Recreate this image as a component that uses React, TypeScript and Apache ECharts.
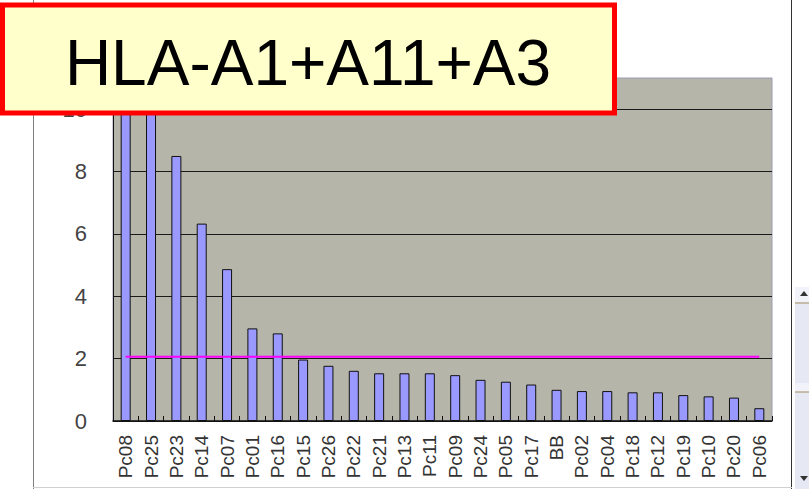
import React, { useEffect, useRef } from "react";
import * as echarts from "echarts";

const categories = ["Pc08","Pc25","Pc23","Pc14","Pc07","Pc01","Pc16","Pc15","Pc26","Pc22","Pc21","Pc13","Pc11","Pc09","Pc24","Pc05","Pc17","BB","Pc02","Pc04","Pc18","Pc12","Pc19","Pc10","Pc20","Pc06"];
const values = [11.8, 11.5, 8.5, 6.33, 4.87, 2.97, 2.81, 1.97, 1.77, 1.61, 1.53, 1.53, 1.53, 1.47, 1.32, 1.26, 1.17, 1.0, 0.96, 0.96, 0.92, 0.92, 0.83, 0.79, 0.75, 0.41];
const thresholdValue = 2.06;
const thresholdLine = categories.map(() => thresholdValue);
const yMin = 0;
const yMax = 11;
const yInterval = 2;
const titleText = "HLA-A1+A11+A3";

export default function App() {
  const ref = useRef<HTMLDivElement>(null);
  useEffect(() => {
    document.body.style.margin = "0";
    if (!ref.current) return;
    const chart = echarts.init(ref.current, null, { renderer: "svg" });
    const font = "'Liberation Sans', Arial, sans-serif";
    chart.setOption({
      animation: false,
      backgroundColor: "#ffffff",
      grid: {
        left: 113,
        right: 37,
        top: 78,
        bottom: 68,
        show: true,
        backgroundColor: "#b5b5a9",
        borderColor: "#9c9cb4",
        borderWidth: 1,
      },
      xAxis: {
        type: "category",
        data: categories,
        boundaryGap: true,
        axisLine: { show: true, lineStyle: { color: "#111", width: 1.5 } },
        axisTick: { show: true, inside: true, length: 5, lineStyle: { color: "#111" } },
        axisLabel: {
          rotate: 90,
          interval: 0,
          margin: 14,
          fontSize: 19,
          color: "#333",
          fontFamily: font,
        },
        splitLine: { show: false },
      },
      yAxis: {
        type: "value",
        min: yMin,
        max: yMax,
        interval: yInterval,
        axisLine: { show: true, lineStyle: { color: "#111", width: 1 } },
        axisTick: { show: false },
        axisLabel: {
          margin: 26,
          fontSize: 22,
          color: "#444",
          fontFamily: font,
          showMaxLabel: false,
        },
        splitLine: {
          show: true,
          lineStyle: {
            color: ["#1a1a1a", "#1a1a1a", "#1a1a1a", "#1a1a1a", "#1a1a1a", "#1a1a1a", "transparent"],
            width: 1,
          },
        },
      },
      series: [
        {
          type: "bar",
          data: values,
          barWidth: 10,
          clip: true,
          itemStyle: { color: "#9999ff", borderColor: "#111", borderWidth: 1 },
          z: 2,
        },
        {
          type: "line",
          data: thresholdLine,
          symbol: "none",
          lineStyle: { color: "#ff00ff", width: 2 },
          z: 3,
        },
      ],
      graphic: [
        { type: "line", shape: { x1: 33.5, y1: 0, x2: 33.5, y2: 489 }, style: { stroke: "#808080", lineWidth: 1 }, z: 1 },
        { type: "line", shape: { x1: 791.5, y1: 0, x2: 791.5, y2: 489 }, style: { stroke: "#333", lineWidth: 1 }, z: 1 },
        { type: "line", shape: { x1: 33, y1: 487.5, x2: 792, y2: 487.5 }, style: { stroke: "#d0d0d0", lineWidth: 1 }, z: 1 },
        { type: "rect", shape: { x: 795, y: 287, width: 14, height: 202 }, style: { fill: "#e6e8f4" }, z: 1 },
        { type: "rect", shape: { x: 795, y: 287, width: 14, height: 15 }, style: { fill: "#f2f3fa" }, z: 1 },
        { type: "polygon", shape: { points: [[800, 296], [808, 296], [804, 291]] }, style: { fill: "#333" }, z: 2 },
        { type: "line", shape: { x1: 795, y1: 303, x2: 809, y2: 303 }, style: { stroke: "#b8ae90", lineWidth: 1.5 }, z: 2 },
        { type: "rect", shape: { x: 795, y: 383, width: 14, height: 9 }, style: { fill: "#f2f3fa" }, z: 1 },
        { type: "line", shape: { x1: 795, y1: 392, x2: 809, y2: 392 }, style: { stroke: "#b8ae90", lineWidth: 1.5 }, z: 2 },
        { type: "polygon", shape: { points: [[800, 476], [808, 476], [804, 481]] }, style: { fill: "#333" }, z: 2 },
        {
          type: "rect",
          shape: { x: 2.5, y: 5, width: 612, height: 108 },
          style: { fill: "#ffffcc", stroke: "#ff0000", lineWidth: 5 },
          z: 10,
        },
        {
          type: "text",
          x: 308,
          y: 63,
          z: 11,
          style: {
            text: titleText,
            fontSize: 64,
            fontFamily: font,
            fill: "#000",
            align: "center",
            verticalAlign: "middle",
          },
        },
      ],
    });
    return () => chart.dispose();
  }, []);
  return <div ref={ref} style={{ width: 809, height: 489 }} />;
}
